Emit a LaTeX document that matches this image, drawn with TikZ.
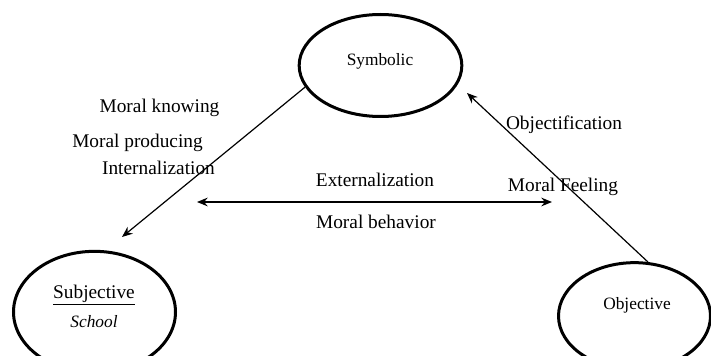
\documentclass[tikz,border=0pt]{standalone}
\usepackage{fontspec}
\setmainfont{Liberation Serif}
\usetikzlibrary{arrows.meta,shapes.geometric}

\tikzset{every picture/.style={line width=0.75pt}}
\tikzset{
  stage/.style={draw, ellipse, line width=2.25pt, inner sep=0pt},
  lbl/.style={inner sep=0.75pt, font=\fontsize{14.5}{17}\selectfont},
  small/.style={inner sep=0.75pt, font=\fontsize{13}{15}\selectfont},
  flow/.style={line width=0.9pt, -{Stealth[length=8pt,width=6.5pt]}},
  both/.style={line width=1.2pt, {Stealth[length=8pt,width=6.5pt]}-{Stealth[length=8pt,width=6.5pt]}},
}

\begin{document}
\begin{tikzpicture}[x=0.75pt,y=0.75pt,yscale=-1,xscale=1]
\clip (0,0) rectangle (711,356);

%Ellipses
\node [stage, minimum width=122pt, minimum height=76.5pt] (sym) at (380.5,65.5) {};
\node [stage, minimum width=121.5pt, minimum height=91pt] (subj) at (94.5,312) {};
\node [stage, minimum width=114pt, minimum height=80pt] (obj) at (634.5,316) {};

% Text Node
\node [small] (symname) at (380,61) {Symbolic};
% Text Node
\node [lbl] (subjname) at (94,295) {\underline{Subjective}};
% Text Node
\node [small] (school) at (94,322) {\itshape School};
% Text Node
\node [small] (objname) at (637,305) {Objective};

%Free ends
\coordinate (inttip) at (122,237);
\coordinate (objtip) at (467,93);
\coordinate (extleft) at (197,202);
\coordinate (extright) at (552,202);

%Straight Lines
\draw [flow] (sym.196) -- (inttip);
\draw [flow] (obj.76) -- (objtip);
\draw [both] (extleft) -- (extright);

% Text Node
\node [lbl] (knowing) at (159.5,108) {Moral knowing};
% Text Node
\node [lbl] (producing) at (137.5,143) {Moral producing};
% Text Node
\node [lbl] (internal) at (158.5,168) {Internalization};
% Text Node
\node [lbl] (external) at (375,180) {Externalization};
% Text Node
\node [lbl] (behavior) at (376,222) {Moral behavior};
% Text Node
\node [lbl] (objectif) at (564,125) {Objectification};
% Text Node
\node [lbl] (feeling) at (563,187) {Moral Feeling};

\end{tikzpicture}
\end{document}
